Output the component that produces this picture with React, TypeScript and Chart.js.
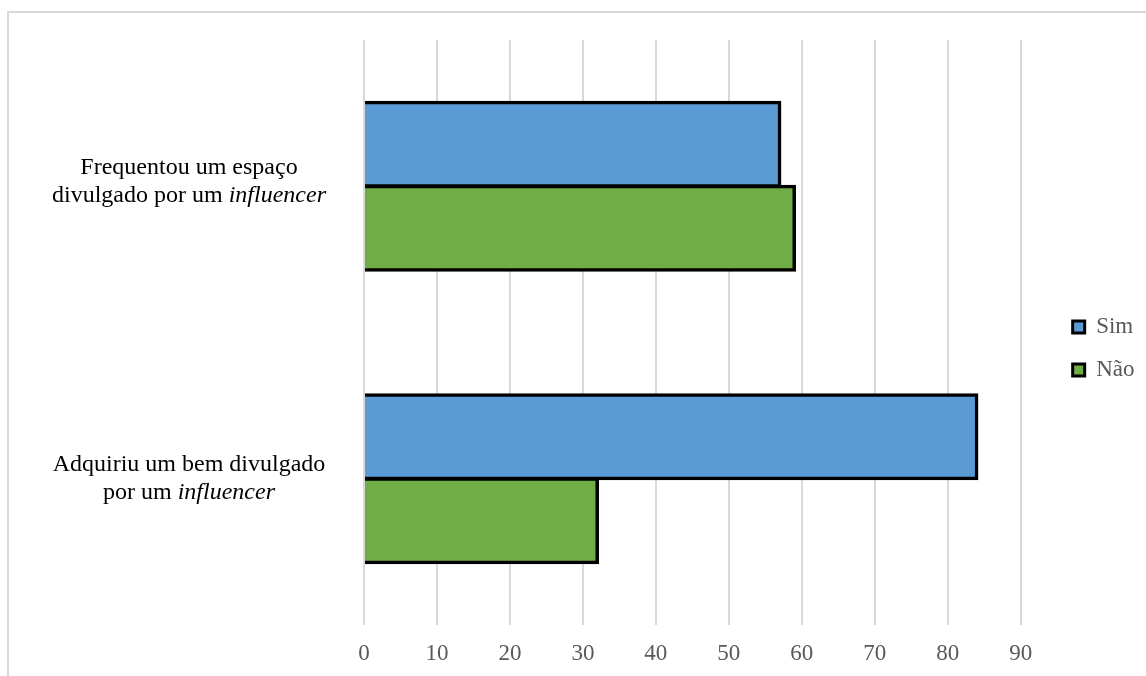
import React, { useEffect, useRef } from 'react';
import { Chart, registerables } from 'chart.js';

Chart.register(...registerables);

// ---- Data ----
const categoryLines: string[][] = [
  ['Frequentou um espaço', 'divulgado por um *influencer*'],
  ['Adquiriu um bem divulgado', 'por um *influencer*'],
];
const seriesNames = ['Sim', 'Não'];
const simValues = [57, 84];
const naoValues = [59, 32];
const xMin = 0;
const xMax = 90;
const xStep = 10;

// ---- Style ----
const FONT = 'Liberation Serif';
const BLUE = '#5B9BD5';
const GREEN = '#70AD47';
const GRID = '#d9d9d9';
const TICK_COLOR = '#595959';
const CAT_FONT_SIZE = 24;
const CAT_LINE_H = 28;
const CAT_CENTER_X = 189;
const CAT_Y_OFFSETS = [-5, 0];
const LEGEND_DX = 32;
const LEGEND_DY = -9.5;

const categoryLabelPlugin = {
  id: 'categoryLabels',
  afterDraw(chart: any) {
    const ys = chart.scales.y;
    const ctx = chart.ctx;
    ctx.save();
    ctx.fillStyle = '#000000';
    ctx.textBaseline = 'middle';
    ctx.textAlign = 'left';
    categoryLines.forEach((lines, i) => {
      const cy = ys.getPixelForValue(i) + (CAT_Y_OFFSETS[i] || 0);
      const n = lines.length;
      lines.forEach((line, j) => {
        const y = cy + (j - (n - 1) / 2) * CAT_LINE_H;
        const segs = line
          .split('*')
          .map((t, k) => ({ t, italic: k % 2 === 1, w: 0 }))
          .filter((s) => s.t.length > 0);
        let total = 0;
        segs.forEach((s) => {
          ctx.font = `${s.italic ? 'italic ' : ''}${CAT_FONT_SIZE}px "${FONT}"`;
          s.w = ctx.measureText(s.t).width;
          total += s.w;
        });
        let x = CAT_CENTER_X - total / 2;
        segs.forEach((s) => {
          ctx.font = `${s.italic ? 'italic ' : ''}${CAT_FONT_SIZE}px "${FONT}"`;
          ctx.fillText(s.t, x, y);
          x += s.w;
        });
      });
    });
    ctx.restore();
  },
};

const legendShiftPlugin = {
  id: 'legendShift',
  afterLayout(chart: any) {
    const l = chart.legend;
    if (l) {
      l.left += LEGEND_DX;
      l.right += LEGEND_DX;
      l.top += LEGEND_DY;
      l.bottom += LEGEND_DY;
    }
  },
};

export default function App() {
  const canvasRef = useRef<HTMLCanvasElement | null>(null);

  useEffect(() => {
    if (!canvasRef.current) return;
    const labels = categoryLines.map((ls) => ls.join(' ').replace(/\*/g, ''));
    const chart = new Chart(canvasRef.current, {
      type: 'bar',
      data: {
        labels,
        datasets: [
          {
            label: seriesNames[0],
            data: simValues,
            backgroundColor: BLUE,
            borderColor: '#000000',
            borderWidth: { top: 3.5, right: 3.5, bottom: 3.5, left: 0 },
            borderSkipped: 'start',
            inflateAmount: 1.5,
            categoryPercentage: 0.575,
            barPercentage: 1,
          },
          {
            label: seriesNames[1],
            data: naoValues,
            backgroundColor: GREEN,
            borderColor: '#000000',
            borderWidth: { top: 3.5, right: 3.5, bottom: 3.5, left: 0 },
            borderSkipped: 'start',
            inflateAmount: 1.5,
            categoryPercentage: 0.575,
            barPercentage: 1,
          },
        ],
      },
      options: {
        indexAxis: 'y',
        responsive: false,
        animation: false,
        layout: { padding: { top: 40, left: 0, right: 33.5, bottom: 0 } },
        scales: {
          x: {
            min: xMin,
            max: xMax,
            ticks: {
              stepSize: xStep,
              color: TICK_COLOR,
              font: { family: FONT, size: 23 },
              padding: 15,
            },
            grid: { color: GRID, lineWidth: 2, drawTicks: false },
            border: { display: false },
            afterFit: (scale: any) => {
              scale.height = 51;
            },
          },
          y: {
            ticks: { display: false },
            grid: { display: false },
            border: { display: false },
            afterFit: (scale: any) => {
              scale.width = 364;
            },
          },
        },
        plugins: {
          tooltip: { enabled: false },
          legend: {
            position: 'right',
            labels: {
              color: TICK_COLOR,
              font: { family: FONT, size: 23 },
              boxWidth: 12,
              boxHeight: 12,
              padding: 20,
              generateLabels: (c: any) =>
                Chart.defaults.plugins.legend.labels
                  .generateLabels(c)
                  .map((l: any) => ({ ...l, lineWidth: 3, strokeStyle: '#000000' })),
            },
          },
        },
      },
      plugins: [categoryLabelPlugin, legendShiftPlugin],
    } as any);
    return () => chart.destroy();
  }, []);

  return (
    <div
      style={{
        position: 'fixed',
        left: 0,
        top: 0,
        width: 1146,
        height: 676,
        overflow: 'hidden',
        background: '#ffffff',
      }}
    >
      <div
        style={{
          position: 'absolute',
          left: 7,
          top: 11,
          width: 1200,
          height: 700,
          border: `2px solid ${GRID}`,
          boxSizing: 'border-box',
        }}
      />
      <canvas
        ref={canvasRef}
        width={1146}
        height={676}
        style={{ position: 'absolute', left: 0, top: 0 }}
      />
    </div>
  );
}
